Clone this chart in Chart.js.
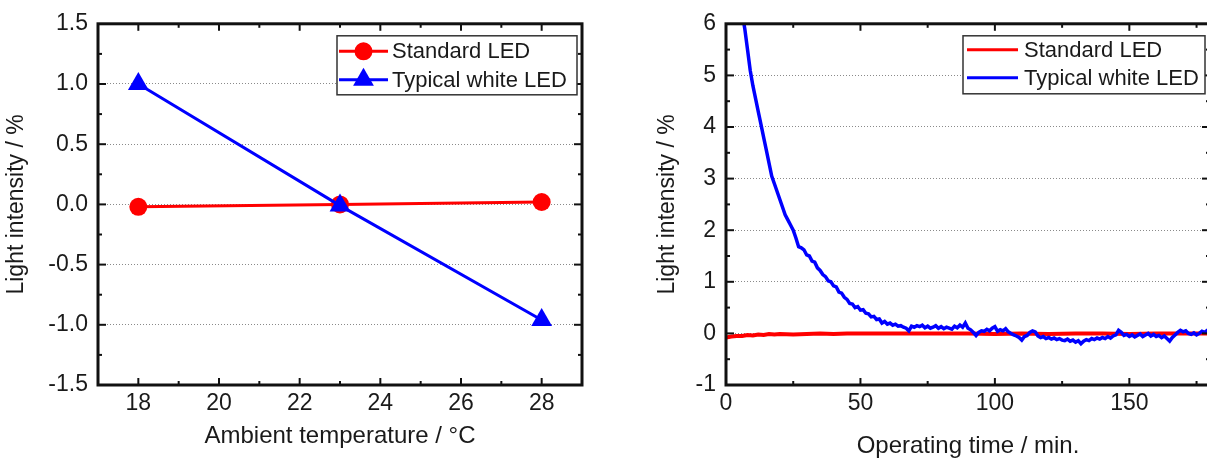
<!DOCTYPE html>
<html><head><meta charset="utf-8">
<script src="https://cdn.jsdelivr.net/npm/chart.js@4.4.1/dist/chart.umd.min.js"></script>
<style>
html,body{margin:0;padding:0;background:#fff;overflow:hidden;width:1207px;height:465px;position:relative;}
#c1{position:absolute;left:0;top:0;}
#c2{position:absolute;left:640px;top:0;}
</style></head><body>
<canvas id="c1" width="600" height="465"></canvas>
<canvas id="c2" width="600" height="465"></canvas>
<script>
// ---------- data ----------
const seriesNames = ['Standard LED', 'Typical white LED'];

// left chart: ambient temperature
const tempC = [18, 23, 28];
const stdLedTemp = [-0.02, 0.0, 0.02];
const whiteLedTemp = [1.0, -0.01, -0.96];
const tempTickLabels = [18, 20, 22, 24, 26, 28];
const intensityTickLabelsLeft = [-1.5, -1.0, -0.5, 0.0, 0.5, 1.0, 1.5];

// right chart: operating time
const timeMin = [0,1,2,3,4,5,6,7,8,9,10,11,12,13,14,15,16,17,18,19,20,21,22,23,24,25,26,27,28,29,30,31,32,33,34,35,36,37,38,39,40,41,42,43,44,45,46,47,48,49,50,51,52,53,54,55,56,57,58,59,60,61,62,63,64,65,66,67,68,69,70,71,72,73,74,75,76,77,78,79,80,81,82,83,84,85,86,87,88,89,90,91,92,93,94,95,96,97,98,99,100,101,102,103,104,105,106,107,108,109,110,111,112,113,114,115,116,117,118,119,120,121,122,123,124,125,126,127,128,129,130,131,132,133,134,135,136,137,138,139,140,141,142,143,144,145,146,147,148,149,150,151,152,153,154,155,156,157,158,159,160,161,162,163,164,165,166,167,168,169,170,171,172,173,174,175,176,177,178,179,180];
const whiteLedTime = [
9.2,8.6,8.0,7.5,7.0,6.6,6.2,5.9,5.5,5.1,
4.8,4.55,4.3,4.05,3.8,3.55,3.3,3.05,2.9,2.75,
2.6,2.45,2.3,2.2,2.1,2.0,1.85,1.68,1.66,1.62,
1.52,1.5,1.4,1.38,1.27,1.22,1.14,1.1,1.02,1.0,
0.92,0.9,0.8,0.78,0.7,0.66,0.58,0.57,0.5,0.52,
0.45,0.46,0.39,0.38,0.32,0.33,0.27,0.28,0.2,0.23,
0.18,0.2,0.16,0.18,0.14,0.15,0.12,0.1,0.05,0.14,
0.12,0.15,0.13,0.16,0.11,0.14,0.1,0.12,0.15,0.1,
0.13,0.09,0.12,0.1,0.08,0.14,0.11,0.16,0.12,0.2,
0.1,0.07,0.02,-0.04,0.02,0.05,0.04,0.08,0.05,0.1,
0.13,0.04,0.07,0.05,0.09,0.03,0.0,-0.03,-0.05,-0.08,
-0.13,-0.06,-0.04,0.02,0.05,0.03,-0.05,-0.08,-0.06,-0.1,
-0.08,-0.11,-0.09,-0.12,-0.1,-0.13,-0.14,-0.11,-0.15,-0.13,
-0.17,-0.14,-0.2,-0.15,-0.12,-0.14,-0.1,-0.12,-0.09,-0.11,
-0.08,-0.1,-0.06,-0.09,-0.05,-0.03,0.06,0.02,-0.04,-0.02,
-0.06,-0.03,-0.07,-0.04,-0.01,-0.06,-0.03,0.0,-0.05,-0.02,
-0.06,-0.04,-0.08,-0.05,-0.1,-0.15,-0.08,-0.03,0.02,0.06,
0.03,0.05,0.0,-0.02,0.01,-0.03,0.0,0.04,0.02,0.06,
0.03];
const stdTimeMin = [0,2,4,6,8,10,12,14,16,18,20,25,30,35,40,45,50,60,70,80,90,100,110,120,130,140,150,160,170,180];
const stdLedTime = [-0.08,-0.06,-0.05,-0.05,-0.03,-0.04,-0.02,-0.03,-0.01,-0.02,-0.01,-0.02,-0.01,0.0,-0.01,0.0,0.0,0.0,0.0,0.0,0.0,-0.01,0.0,-0.01,0.0,0.0,-0.01,0.0,0.0,0.0];
const timeTickLabels = [0, 50, 100, 150];
const intensityTickLabelsRight = [-1, 0, 1, 2, 3, 4, 5, 6];

// ---------- styling / helpers ----------
const FONT = "'Liberation Sans', Arial, Helvetica, sans-serif";
Chart.defaults.font.family = FONT;
Chart.defaults.color = '#1a1a1a';
Chart.defaults.animation = false;

const inList = (list, v) => list.some(t => Math.abs(t - v) < 1e-9);
const pts = (xs, ys) => xs.map((x, i) => ({x: x, y: ys[i]}));

const framePlugin = {
  id: 'frame',
  afterDatasetsDraw(chart) {
    const {ctx, chartArea: {left, right, top, bottom}, scales: {x, y}} = chart;
    ctx.save();
    ctx.strokeStyle = '#111';
    ctx.lineWidth = 2;
    const seg = (a, b, c, d) => { ctx.beginPath(); ctx.moveTo(a, b); ctx.lineTo(c, d); ctx.stroke(); };
    x.ticks.forEach(t => {
      if (t.value <= x.min + 1e-9 || t.value >= x.max - 1e-9) return;
      const px = x.getPixelForValue(t.value);
      const len = t.label !== '' ? 7 : 4;
      seg(px, bottom, px, bottom - len);
      seg(px, top, px, top + len);
    });
    y.ticks.forEach(t => {
      if (t.value <= y.min + 1e-9 || t.value >= y.max - 1e-9) return;
      const py = y.getPixelForValue(t.value);
      const len = t.label !== '' ? 8 : 4;
      seg(left, py, left + len, py);
      seg(right, py, right - len, py);
    });
    ctx.lineWidth = 3;
    ctx.strokeRect(left, top, right - left, bottom - top);
    ctx.restore();
  }
};

function drawMarker(ctx, style, r, cx, cy, color) {
  ctx.fillStyle = color;
  ctx.beginPath();
  if (style === 'circle') {
    ctx.arc(cx, cy, r, 0, Math.PI * 2);
  } else if (style === 'triangle') {
    for (let k = 0; k < 3; k++) {
      const a = k * 2 * Math.PI / 3;
      const px = cx + Math.sin(a) * r, py = cy - Math.cos(a) * r;
      if (k === 0) ctx.moveTo(px, py); else ctx.lineTo(px, py);
    }
    ctx.closePath();
  }
  ctx.fill();
}

const boxLegend = {
  id: 'boxLegend',
  afterDraw(chart, args, o) {
    const {ctx, chartArea} = chart;
    const bx = chartArea.right - o.rightGap - o.width;
    const by = chartArea.top + o.topGap;
    ctx.save();
    ctx.fillStyle = '#fff';
    ctx.fillRect(bx, by, o.width, o.height);
    ctx.strokeStyle = '#333';
    ctx.lineWidth = 1.5;
    ctx.strokeRect(bx, by, o.width, o.height);
    chart.data.datasets.forEach((ds, i) => {
      const yy = by + o.rows[i];
      ctx.strokeStyle = ds.borderColor;
      ctx.lineWidth = o.lineWidth;
      ctx.beginPath();
      ctx.moveTo(bx + o.lineX0, yy);
      ctx.lineTo(bx + o.lineX1, yy);
      ctx.stroke();
      if (o.markers) {
        drawMarker(ctx, ds.pointStyle, ds.pointRadius, bx + (o.lineX0 + o.lineX1) / 2, yy, ds.pointBackgroundColor);
      }
      ctx.fillStyle = '#1a1a1a';
      ctx.font = o.fontSize + 'px ' + FONT;
      ctx.textBaseline = 'middle';
      ctx.textAlign = 'left';
      ctx.fillText(ds.label, bx + o.textX, yy + 1);
    });
    ctx.restore();
  }
};

const gridColor = (labels) => (c) => {
  const v = c.tick ? c.tick.value : null;
  if (v === null) return 'rgba(0,0,0,0)';
  const sc = c.scale;
  if (v <= sc.min + 1e-9 || v >= sc.max - 1e-9) return 'rgba(0,0,0,0)';
  return inList(labels, v) ? '#8a8a8a' : 'rgba(0,0,0,0)';
};

// ---------- left chart ----------
new Chart(document.getElementById('c1'), {
  type: 'line',
  data: {
    datasets: [
      {
        label: seriesNames[0],
        data: pts(tempC, stdLedTemp),
        borderColor: '#ff0000', backgroundColor: '#ff0000',
        pointBackgroundColor: '#ff0000', pointBorderColor: '#ff0000',
        borderWidth: 3, pointStyle: 'circle', pointRadius: 9, pointBorderWidth: 0,
        tension: 0, order: 1
      },
      {
        label: seriesNames[1],
        data: pts(tempC, whiteLedTemp),
        borderColor: '#0000ff', backgroundColor: '#0000ff',
        pointBackgroundColor: '#0000ff', pointBorderColor: '#0000ff',
        borderWidth: 3, pointStyle: 'triangle', pointRadius: 12, pointBorderWidth: 0,
        tension: 0, order: 0
      }
    ]
  },
  options: {
    responsive: false,
    layout: {padding: {top: 20, right: 18, left: 0, bottom: 0}},
    plugins: {
      legend: {display: false},
      tooltip: {enabled: false},
      boxLegend: {rightGap: 5, topGap: 12, width: 240, height: 59, rows: [15.5, 44], lineX0: 2, lineX1: 51, textX: 55, markers: true, fontSize: 22, lineWidth: 3}
    },
    scales: {
      x: {
        type: 'linear', min: 17, max: 29,
        ticks: {stepSize: 1, autoSkip: false, maxRotation: 0, padding: 5, font: {size: 23},
          callback: v => inList(tempTickLabels, v) ? String(v) : ''},
        grid: {display: false, drawTicks: false},
        border: {display: false},
        title: {display: true, text: 'Ambient temperature / °C', font: {size: 24}, padding: {top: 0, bottom: 14}},
        afterFit: s => { s.height = 80; }
      },
      y: {
        type: 'linear', min: -1.5, max: 1.5,
        ticks: {stepSize: 0.25, autoSkip: false, padding: 10, font: {size: 23},
          callback: v => inList(intensityTickLabelsLeft, v) ? (Math.abs(v) < 1e-9 ? '0.0' : v.toFixed(1)) : ''},
        grid: {drawTicks: false, lineWidth: 1, color: gridColor(intensityTickLabelsLeft)},
        border: {display: false, dash: [1, 2]},
        title: {display: true, text: 'Light intensity / %', font: {size: 23}, padding: {top: 3, bottom: 0}},
        afterFit: s => { s.width = 98; }
      }
    }
  },
  plugins: [framePlugin, boxLegend]
});

// ---------- right chart ----------
new Chart(document.getElementById('c2'), {
  type: 'line',
  data: {
    datasets: [
      {
        label: seriesNames[0],
        data: pts(stdTimeMin, stdLedTime),
        borderColor: '#ff0000', backgroundColor: '#ff0000',
        borderWidth: 4, pointRadius: 0, tension: 0, order: 1
      },
      {
        label: seriesNames[1],
        data: pts(timeMin, whiteLedTime),
        borderColor: '#0000ff', backgroundColor: '#0000ff',
        borderWidth: 3.5, pointRadius: 0, tension: 0, order: 0
      }
    ]
  },
  options: {
    responsive: false,
    layout: {padding: {top: 20, right: 30, left: 0, bottom: 0}},
    plugins: {
      legend: {display: false},
      tooltip: {enabled: false},
      boxLegend: {rightGap: 5, topGap: 12, width: 242, height: 58, rows: [14, 42], lineX0: 4, lineX1: 55, textX: 61, markers: false, fontSize: 22, lineWidth: 3}
    },
    scales: {
      x: {
        type: 'linear', min: 0, max: 180,
        ticks: {stepSize: 25, autoSkip: false, maxRotation: 0, padding: 5, font: {size: 23}, includeBounds: false,
          callback: v => inList(timeTickLabels, v) ? String(v) : ''},
        grid: {display: false, drawTicks: false},
        border: {display: false},
        title: {display: true, text: 'Operating time / min.', font: {size: 24}, padding: {top: 0, bottom: 4}},
        afterFit: s => { s.height = 80; }
      },
      y: {
        type: 'linear', min: -1, max: 6,
        ticks: {stepSize: 0.5, autoSkip: false, padding: 10, font: {size: 23},
          callback: v => inList(intensityTickLabelsRight, v) ? String(v) : ''},
        grid: {drawTicks: false, lineWidth: 1, color: gridColor(intensityTickLabelsRight)},
        border: {display: false, dash: [1, 2]},
        title: {display: true, text: 'Light intensity / %', font: {size: 23}, padding: {top: 14, bottom: 0}},
        afterFit: s => { s.width = 86; }
      }
    }
  },
  plugins: [framePlugin, boxLegend]
});
</script>
</body></html>
